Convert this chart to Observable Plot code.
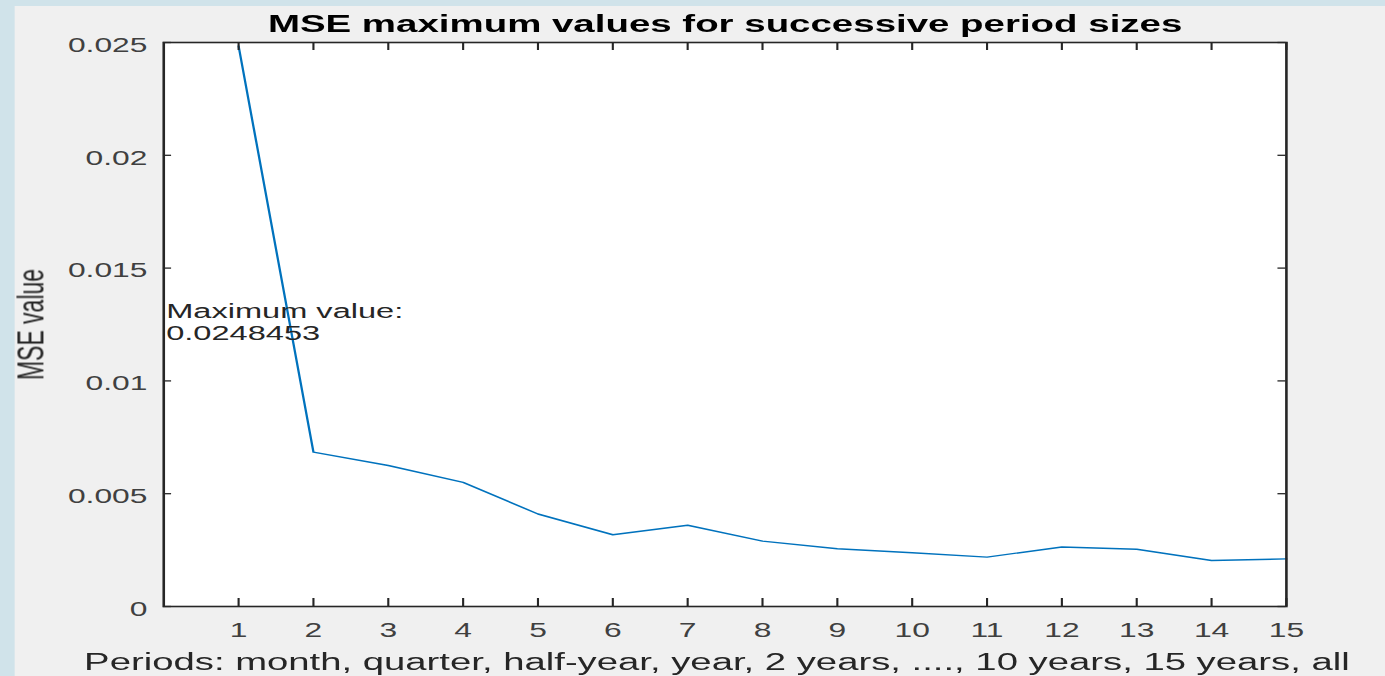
<!DOCTYPE html>
<html>
<head>
<meta charset="utf-8">
<script src="https://cdn.jsdelivr.net/npm/d3@7"></script>
<script src="https://cdn.jsdelivr.net/npm/@observablehq/plot@0.6"></script>
<style>
  html, body { margin: 0; padding: 0; background: #d0e3ea; overflow: hidden; width: 1385px; height: 676px; }
  #stage { position: absolute; left: 0; top: 0; width: 850px; height: 676px; transform: scaleX(1.6294); transform-origin: 0 0; }
  #panel { position: absolute; left: 8.6px; top: 6px; right: 0; bottom: 0; background: #f0f0f0; }
  #chart { position: absolute; left: 0; top: 0; }
</style>
</head>
<body>
<div id="stage"><div id="panel"></div><div id="chart"></div></div>
<script>
// ---- data ----
const periods = [1, 2, 3, 4, 5, 6, 7, 8, 9, 10, 11, 12, 13, 14, 15];
const mseMax = [0.0248453, 0.00684, 0.00625, 0.0055, 0.0041, 0.00318, 0.0036, 0.0029, 0.00256, 0.00238, 0.00219, 0.00264, 0.00254, 0.00204, 0.00211];
const xTicks = [1, 2, 3, 4, 5, 6, 7, 8, 9, 10, 11, 12, 13, 14, 15];
const yTicks = [0, 0.005, 0.01, 0.015, 0.02, 0.025];
const yTickLabels = ["0", "0.005", "0.01", "0.015", "0.02", "0.025"];
const titleText = ["MSE maximum values for successive period sizes"];
const xLabelText = ["Periods: month, quarter, half-year, year, 2 years, ...., 10 years, 15 years, all"];
const yLabelText = ["MSE value"];
const maxLabelText = ["Maximum value:\n0.0248453"];

// ---- chart ----
const rows = periods.map((p, i) => ({period: p, mse: mseMax[i]}));
const W = 850, H = 676, mL = 100, mR = 61, mT = 42, mB = 70;
const fw = W - mL - mR, fh = H - mT - mB;
const axisColor = "#262626";

const chart = Plot.plot({
  width: W, height: H,
  marginLeft: mL, marginRight: mR, marginTop: mT, marginBottom: mB,
  style: {background: "transparent", fontFamily: "'Liberation Sans', Arial, sans-serif", overflow: "visible"},
  x: {domain: [0, 15]},
  y: {domain: [0, 0.025]},
  marks: [
    Plot.frame({fill: "white"}),
    Plot.lineY(rows, {x: "period", y: "mse", stroke: "#0072bd", strokeWidth: 1.4}),
    Plot.text(maxLabelText, {text: d => d, frameAnchor: "left", textAnchor: "start", lineAnchor: "middle", dx: 1.5, dy: -3, fontSize: 20, lineHeight: 1.1, fill: axisColor}),
    Plot.tickX(xTicks, {x: d => d, insetTop: fh - 8, stroke: axisColor, strokeWidth: 1.3}),
    Plot.tickX(xTicks, {x: d => d, insetBottom: fh - 8, stroke: axisColor, strokeWidth: 1.3}),
    Plot.tickY(yTicks, {y: d => d, insetRight: fw - 5, stroke: axisColor, strokeWidth: 1.3}),
    Plot.tickY(yTicks, {y: d => d, insetLeft: fw - 5, stroke: axisColor, strokeWidth: 1.3}),
    Plot.frame({stroke: axisColor, strokeWidth: 1.6}),
    Plot.axisX(xTicks, {tickSize: 0, tickPadding: 17, fontSize: 19.5, color: "#404040", label: null, tickFormat: d => String(d)}),
    Plot.axisY(yTicks, {tickSize: 0, tickPadding: 10, fontSize: 19.5, dy: 3, color: "#404040", label: null,
      tickFormat: d => yTickLabels[yTicks.indexOf(d)]}),
    Plot.text(titleText, {text: d => d, frameAnchor: "top", dy: -18.5, lineAnchor: "middle", fontSize: 23.6, fontWeight: "bold", fill: "#000"}),
    Plot.text(xLabelText, {text: d => d, frameAnchor: "bottom", dx: -5, dy: 56, lineAnchor: "middle", fontSize: 23.5, fill: axisColor}),
    Plot.text(yLabelText, {text: d => d, frameAnchor: "left", dx: -81, rotate: -90, textAnchor: "middle", lineAnchor: "middle", fontSize: 23, fill: axisColor})
  ]
});
document.getElementById("chart").appendChild(chart);
</script>
</body>
</html>
